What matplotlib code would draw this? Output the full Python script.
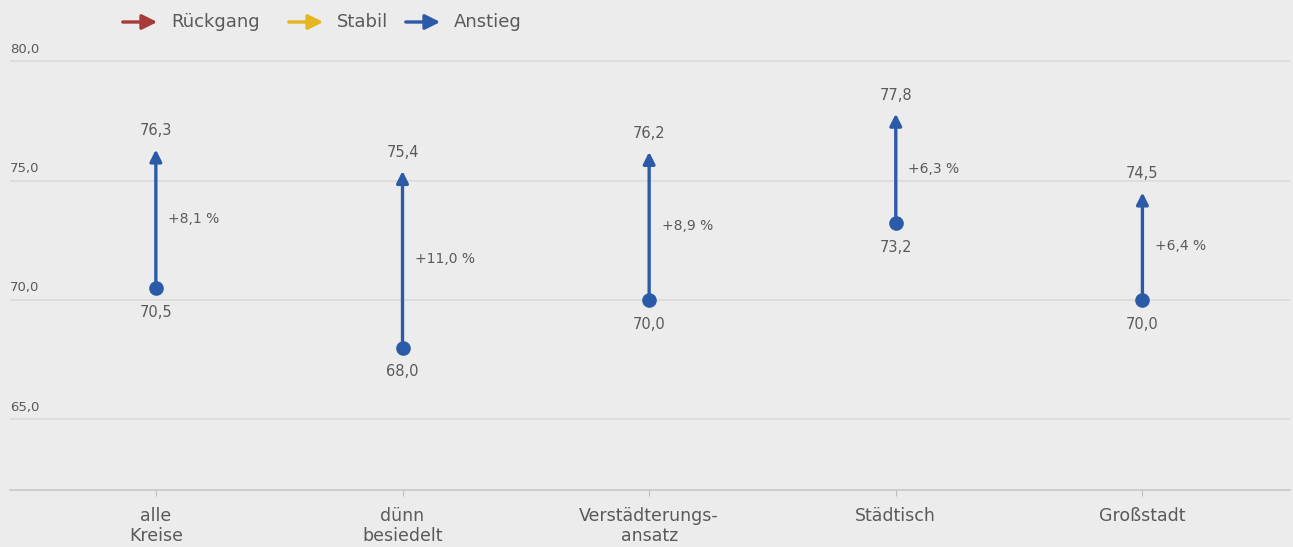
import matplotlib.pyplot as plt
from matplotlib.patches import FancyArrowPatch

# Daten
categories = ["alle\nKreise", "dünn\nbesiedelt", "Verstädterungs-\nansatz", "Städtisch", "Großstadt"]
start_values = [70.5, 68.0, 70.0, 73.2, 70.0]
end_values = [76.3, 75.4, 76.2, 77.8, 74.5]
change_labels = ["+8,1 %", "+11,0 %", "+8,9 %", "+6,3 %", "+6,4 %"]
y_ticks = [65.0, 70.0, 75.0, 80.0]

BG = "#ececec"
GRID = "#dadada"
TXT = "#5a5a5a"
BLUE = "#2b5aa8"
RED = "#a83a3a"
YELLOW = "#e6b61e"

plt.rcParams['font.family'] = ['DejaVu Sans']

fig = plt.figure(figsize=(12.93, 5.47), dpi=100, facecolor=BG)
ax = fig.add_axes([0.008, 0.104, 0.99, 0.82])
ax.set_facecolor(BG)

x = list(range(len(categories)))
ax.set_xlim(-0.59, 4.6)
ax.set_ylim(62.03, 80.82)

# Gitterlinien + Beschriftung über der Linie
for v in y_ticks:
    ax.axhline(v, color=GRID, lw=1.2, zorder=0)
    ax.annotate(f"{v:.1f}".replace(".", ","), xy=(0, v), xycoords=('axes fraction', 'data'),
                xytext=(0, 4), textcoords='offset points', fontsize=9.5, color=TXT,
                ha='left', va='bottom')

for i in x:
    s, e = start_values[i], end_values[i]
    ax.annotate("", xy=(i, e), xytext=(i, s),
                arrowprops=dict(arrowstyle="-|>,head_length=0.7,head_width=0.35",
                                color=BLUE, lw=2.4, shrinkA=0, shrinkB=0), zorder=3)
    ax.plot(i, s, 'o', color=BLUE, ms=9.5, zorder=4)
    ax.annotate(f"{e:.1f}".replace(".", ","), xy=(i, e), xytext=(0, 8),
                textcoords='offset points', ha='center', va='bottom', fontsize=10.5, color=TXT)
    ax.annotate(f"{s:.1f}".replace(".", ","), xy=(i, s), xytext=(0, -12),
                textcoords='offset points', ha='center', va='top', fontsize=10.5, color=TXT)
    ax.annotate(change_labels[i], xy=(i, (s + e) / 2), xytext=(9, 0),
                textcoords='offset points', ha='left', va='center', fontsize=10, color=TXT)

ax.set_xticks(x)
ax.set_xticklabels(categories, fontsize=12.5, color=TXT, linespacing=1.15)
ax.tick_params(axis='x', length=4, color="#bdbdbd", pad=8)
ax.set_yticks([])
for side in ['top', 'left', 'right']:
    ax.spines[side].set_visible(False)
ax.spines['bottom'].set_color("#c8c8c8")
ax.spines['bottom'].set_linewidth(1.2)

# Legende
legend_items = [("Rückgang", RED, 120), ("Stabil", YELLOW, 286), ("Anstieg", BLUE, 403)]
W, H = 1293, 547
for label, col, px in legend_items:
    arr = FancyArrowPatch((px / W, 1 - 22 / H), ((px + 40) / W, 1 - 22 / H),
                          transform=fig.transFigure, arrowstyle="-|>,head_length=9,head_width=4.5",
                          color=col, lw=2.4, mutation_scale=1)
    fig.patches.append(arr)
    fig.text((px + 51) / W, 1 - 22 / H, label, fontsize=13, color=TXT, ha='left', va='center')

fig.savefig("out.png", dpi=100, facecolor=BG)
